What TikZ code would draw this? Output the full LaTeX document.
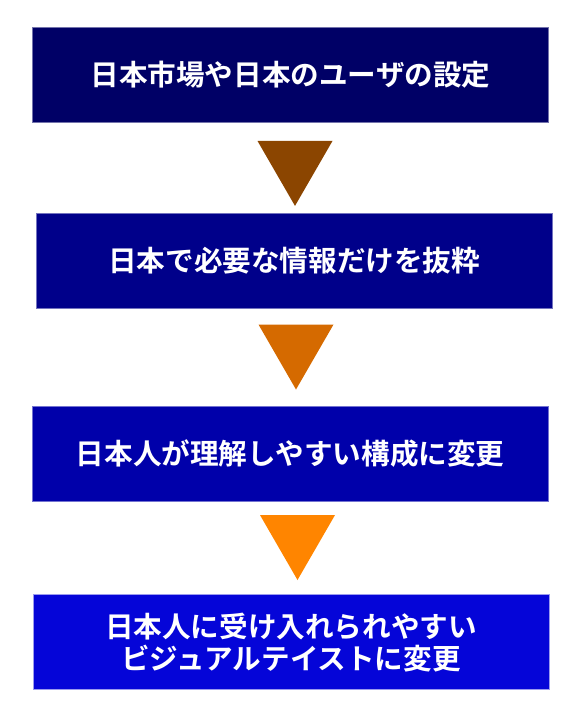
\documentclass[tikz,border=0pt]{standalone}
\usepackage{fontspec}
\newfontfamily\jpfont{Noto Sans CJK JP}[BoldFont={* Bold}]
\usetikzlibrary{shapes.geometric, positioning}
\definecolor{stepA}{HTML}{000066}
\definecolor{stepB}{HTML}{00008A}
\definecolor{stepC}{HTML}{0000AA}
\definecolor{stepD}{HTML}{0505D8}
\definecolor{triA}{HTML}{8B4500}
\definecolor{triB}{HTML}{D56A00}
\definecolor{triC}{HTML}{FF8500}
\tikzset{
  stepbox/.style={rectangle, minimum width=516pt, minimum height=95pt, inner sep=0pt,
    line width=0.7pt, text=white, align=center,
    font=\jpfont\bfseries\fontsize{28.6}{32}\selectfont},
  downtri/.style={regular polygon, regular polygon sides=3, shape border rotate=180,
    minimum size=86.6pt, inner sep=0pt, draw=none}
}

\begin{document}
\begin{tikzpicture}[x=1pt, y=-1pt]
  \useasboundingbox (0,0) rectangle (587,726);

  % Schritte
  \node[stepbox, fill=stepA, draw=stepA!55!white] (s1) at (290.5, 74.8) {日本市場や日本のユーザの設定};
  \node[stepbox, fill=stepB, draw=stepB!55!white] (s2) at (294.2, 260.7) {日本で必要な情報だけを抜粋};
  \node[stepbox, fill=stepC, draw=stepC!55!white] (s3) at (290.2, 453.7) {日本人が理解しやすい構成に変更};
  \node[stepbox, fill=stepD, draw=stepD!40!white] (s4) at (291.0, 642.3) {日本人に受け入れられやすい\\ビジュアルテイストに変更};

  % Pfeile als Dreiecke
  \node[downtri, fill=triA] (t1) at (295.0, 162.6) {};
  \node[downtri, fill=triB] (t2) at (296.0, 346.2) {};
  \node[downtri, fill=triC] (t3) at (297.5, 536.7) {};
\end{tikzpicture}
\end{document}
